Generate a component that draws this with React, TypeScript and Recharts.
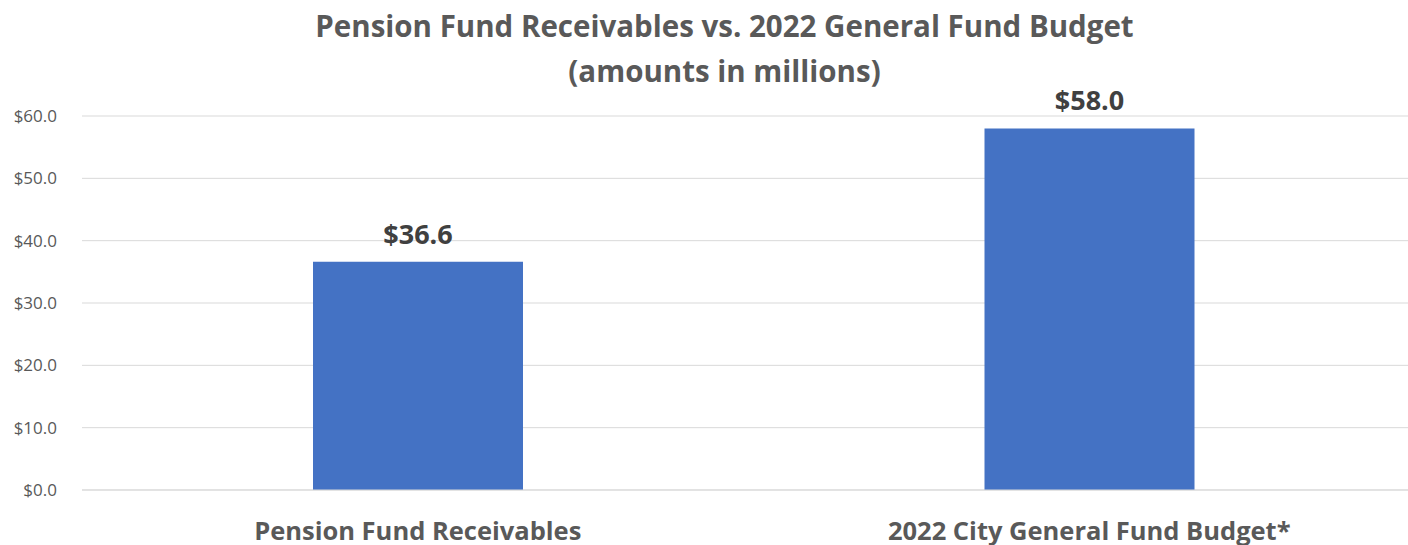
import { Bar, BarChart, CartesianGrid, LabelList, XAxis, YAxis } from "recharts";

const categories = ["Pension Fund Receivables", "2022 City General Fund Budget*"];
const amounts = [36.6, 58.0];
const yTicks = [0, 10, 20, 30, 40, 50, 60];

const data = categories.map((name, i) => ({ name, amount: amounts[i] }));

const font = "'Open Sans', sans-serif";

export default function App() {
  return (
    <div
      style={{
        position: "relative",
        width: 1408,
        height: 545,
        background: "#fff",
        fontFamily: font,
      }}
    >
      <style>{"html, body { margin: 0; padding: 0; overflow: hidden; }"}</style>
      <div
        style={{
          position: "absolute",
          left: 0,
          top: 3,
          width: 1449,
          textAlign: "center",
          color: "#595959",
          fontWeight: 700,
          fontSize: 29.5,
          lineHeight: "45px",
        }}
      >
        Pension Fund Receivables vs. 2022 General Fund Budget
        <br />
        (amounts in millions)
      </div>
      <BarChart
        width={1408}
        height={545}
        data={data}
        margin={{ top: 116, right: -10, bottom: 0, left: 0 }}
      >
        <CartesianGrid vertical={false} stroke="#d9d9d9" />
        <XAxis
          dataKey="name"
          height={55}
          padding={{ left: 0, right: -7 }}
          axisLine={{ stroke: "#d9d9d9" }}
          tickLine={false}
          tickSize={0}
          tickMargin={32}
          tick={{ fill: "#595959", fontSize: 25.5, fontWeight: 700, fontFamily: font }}
        />
        <YAxis
          width={82}
          domain={[0, 60]}
          ticks={yTicks}
          axisLine={false}
          tickLine={false}
          tickSize={0}
          tickMargin={25}
          tickFormatter={(v: number) => `$${v.toFixed(1)}`}
          tick={{ fill: "#595959", fontSize: 17, fontFamily: font }}
        />
        <Bar dataKey="amount" fill="#4472c4" barSize={210} isAnimationActive={false}>
          <LabelList
            dataKey="amount"
            position="top"
            offset={18}
            formatter={(v: number) => `$${Number(v).toFixed(1)}`}
            style={{ fill: "#404040", fontSize: 27, fontWeight: 700, fontFamily: font }}
          />
        </Bar>
      </BarChart>
    </div>
  );
}
